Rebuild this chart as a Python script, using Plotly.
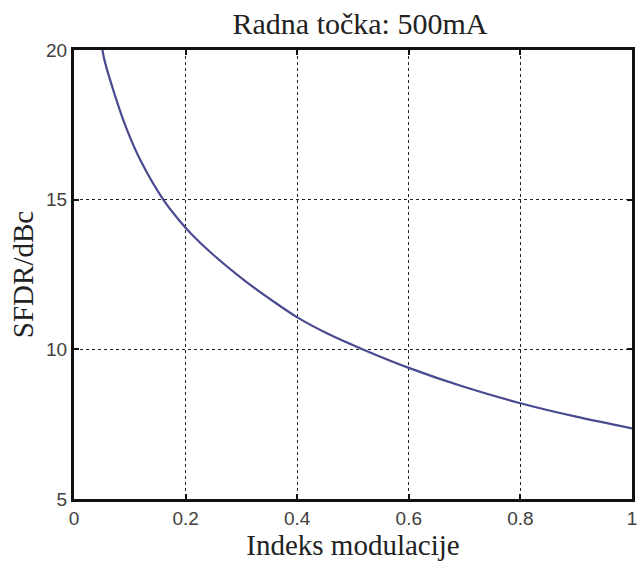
import plotly.graph_objects as go

# modulation index vs. SFDR at the 500 mA operating point
mod_index = [0.051, 0.0545, 0.0728, 0.0936, 0.120, 0.160, 0.188, 0.209, 0.247,
             0.307, 0.366, 0.401, 0.455, 0.520, 0.600, 0.700, 0.800, 0.900, 1.000]
sfdr_dbc = [20.0, 19.67, 18.52, 17.40, 16.28, 15.0, 14.32, 13.88, 13.20,
            12.28, 11.49, 11.06, 10.52, 9.98, 9.38, 8.74, 8.20, 7.75, 7.36]

x_ticks = [0, 0.2, 0.4, 0.6, 0.8, 1]
x_tick_text = ["0", "0.2", "0.4", "0.6", "0.8", "1"]
y_ticks = [5, 10, 15, 20]

serif = "Liberation Serif, Times New Roman, serif"
sans = "Liberation Sans, Arial, sans-serif"

fig = go.Figure()
fig.add_trace(go.Scatter(
    x=mod_index, y=sfdr_dbc, mode="lines",
    line=dict(color="#4a4a90", width=2.2, shape="spline", smoothing=0.9),
    showlegend=False, hoverinfo="skip",
))

axis_common = dict(
    showline=True, linecolor="#111111", linewidth=3, mirror="ticks",
    ticks="inside", ticklen=5, tickwidth=2, tickcolor="#111111",
    showgrid=True, gridcolor="#222222", gridwidth=1, griddash="dot",
    zeroline=False,
    tickfont=dict(family=sans, size=19, color="#404040"),
)

fig.update_layout(
    width=640, height=565,
    margin=dict(l=74, r=3, t=50, b=66),
    paper_bgcolor="white", plot_bgcolor="white",
    title=dict(
        text="Radna točka: 500mA",
        font=dict(family=serif, size=30, color="#222222"),
        x=0.5625, xanchor="center", y=0.958, yanchor="middle",
    ),
    xaxis=dict(
        range=[0, 1], tickvals=x_ticks, ticktext=x_tick_text,
        title=dict(text="Indeks modulacije", standoff=4,
                   font=dict(family=serif, size=29, color="#222222")),
        **axis_common,
    ),
    yaxis=dict(
        range=[5, 20], tickvals=y_ticks,
        title=dict(text="SFDR/dBc", standoff=4,
                   font=dict(family=serif, size=29, color="#222222")),
        **axis_common,
    ),
)

fig.write_html("out.html")
